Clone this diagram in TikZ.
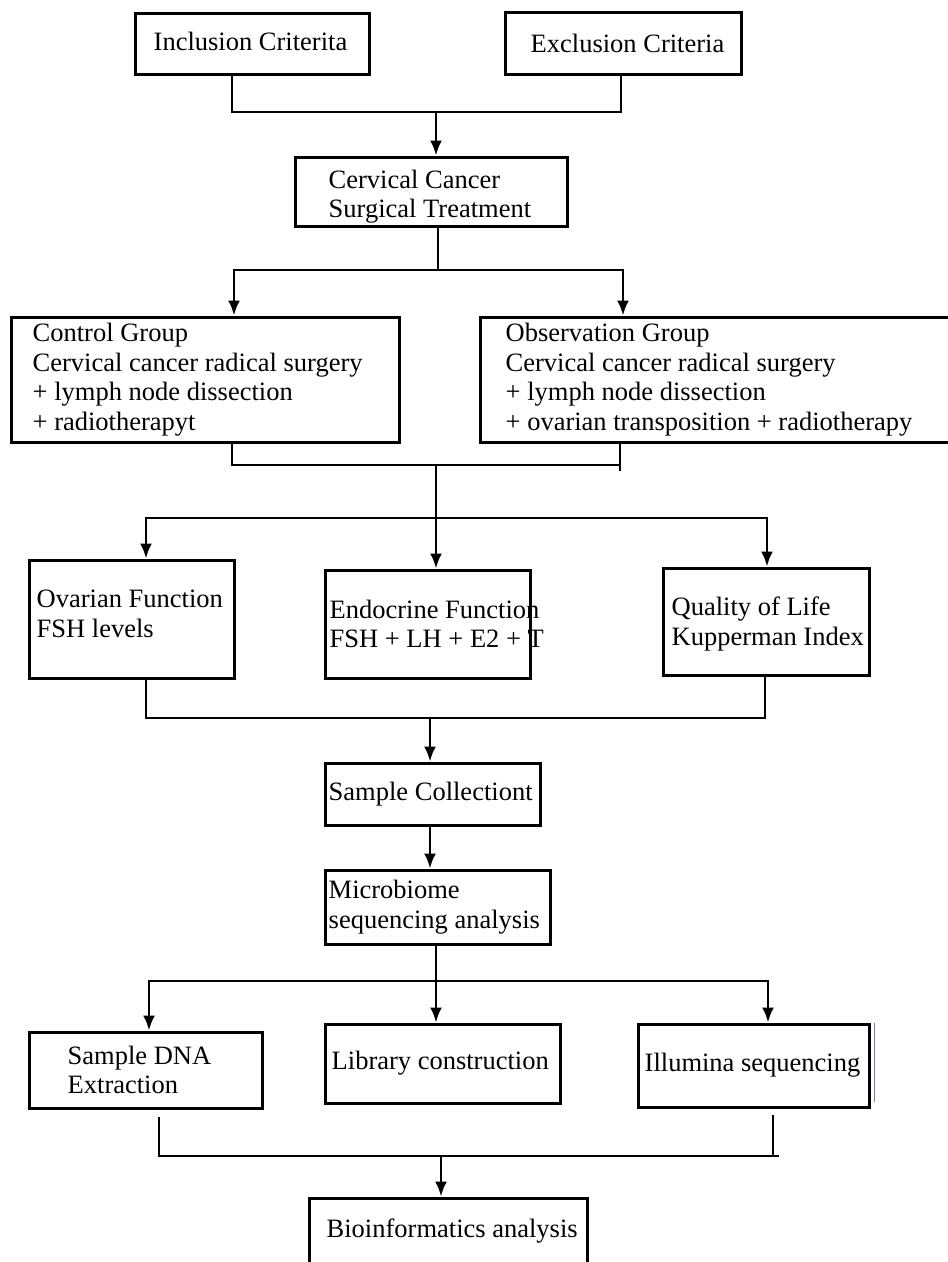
\documentclass[tikz,border=0pt]{standalone}
\usepackage{fontspec}
\setmainfont{Liberation Serif}
\usetikzlibrary{arrows.meta}

\definecolor{edgeblue}{RGB}{110,130,170}

\begin{document}
\begin{tikzpicture}[x=1pt, y=-1pt,
  box/.style={draw, line width=3pt, inner sep=0pt},
  txt/.style={anchor=west, align=left, inner sep=0pt, font=\fontsize{26.5}{29.5}\selectfont},
  link/.style={line width=2.5pt},
  arr/.style={line width=2.5pt, -{Latex[length=15pt, width=12pt]}}]

\useasboundingbox (0,0) rectangle (948,1262);

\node [box, minimum width=234pt, minimum height=61pt, label={[txt, xshift=20pt, yshift=2.5pt]west:Inclusion Criterita}] (incl) at (252,43.5) {};
\node [box, minimum width=236pt, minimum height=62pt, label={[txt, xshift=27pt]west:Exclusion Criteria}] (excl) at (623,43) {};
\node [box, minimum width=272pt, minimum height=69pt, label={[txt, xshift=35pt, yshift=-5pt]west:Cervical Cancer\\Surgical Treatment}] (cerv) at (431,191.5) {};

\node [box, minimum width=388pt, minimum height=125pt, label={[txt, xshift=23pt]west:Control Group\\Cervical cancer radical surgery\\+ lymph node dissection\\+ radiotherapyt}] (ctrl) at (205,379.5) {};
\node [box, minimum width=490pt, minimum height=125pt, label={[txt, xshift=27pt]west:Observation Group\\Cervical cancer radical surgery\\+ lymph node dissection\\+ ovarian transposition + radiotherapy}] (obs) at (725,379.5) {};

\node [box, minimum width=205pt, minimum height=118pt, label={[txt, xshift=9pt, yshift=5pt]west:Ovarian Function\\FSH levels}] (ovar) at (131.5,619) {};
\node [box, minimum width=205pt, minimum height=108pt, label={[txt, xshift=6pt]west:Endocrine Function\\FSH + LH + E2 + T}] (endo) at (427.5,624) {};
\node [box, minimum width=206pt, minimum height=107pt, label={[txt, xshift=10pt, yshift=-2.5pt]west:Quality of Life\\Kupperman Index}] (qual) at (766,621.5) {};

\node [box, minimum width=215pt, minimum height=62pt, label={[txt, xshift=5pt]west:Sample Collectiont}] (samp) at (432.5,794) {};
\node [box, minimum width=225pt, minimum height=74pt, label={[txt, xshift=5pt]west:Microbiome\\sequencing analysis}] (micro) at (437.5,907) {};

\node [box, minimum width=233pt, minimum height=76pt, label={[txt, xshift=40pt]west:Sample DNA\\Extraction}] (dna) at (145.5,1070) {};
\node [box, minimum width=235pt, minimum height=79pt, label={[txt, xshift=8pt]west:Library construction}] (lib) at (442.5,1063.5) {};
\node [box, minimum width=231pt, minimum height=83pt, label={[txt, xshift=8pt]west:Illumina sequencing}] (illu) at (753.5,1065.5) {};
\node [box, minimum width=278pt, minimum height=72pt, label={[txt, xshift=19pt, yshift=3pt]west:Bioinformatics analysis}] (bio) at (448,1234) {};

\draw [edgeblue, line width=1.5pt] ([xshift=4pt]illu.north east) -- ([xshift=4pt, yshift=7pt]illu.south east);

\coordinate (j1l) at (232,112);
\coordinate (j1r) at (621,112);
\coordinate (j1) at (436,112);
\draw [link] (j1l |- incl.south) -- (j1l) -- (j1r) -- (j1r |- excl.south);
\draw [arr] (j1) -- (j1 |- cerv.north);

\coordinate (j2l) at (234,270);
\coordinate (j2r) at (623,270);
\coordinate (j2) at (438,270);
\draw [link] (j2 |- cerv.south) -- (j2);
\draw [arr] (j2) -- (j2l) -- (j2l |- ctrl.north);
\draw [arr] (j2) -- (j2r) -- (j2r |- obs.north);

\coordinate (j3l) at (232,465);
\coordinate (j3r) at (620,465);
\coordinate (j3e) at (620,471);
\coordinate (j3) at (436,465);
\draw [link] (j3l |- ctrl.south) -- (j3l) -- (j3r);
\draw [link] (j3r |- obs.south) -- (j3e);

\coordinate (j4l) at (146,518);
\coordinate (j4r) at (767,518);
\coordinate (j4) at (436,518);
\draw [arr] (j3) -- (j3 |- endo.north);
\draw [arr] (j4) -- (j4l) -- (j4l |- ovar.north);
\draw [arr] (j4) -- (j4r) -- (j4r |- qual.north);

\coordinate (j5l) at (146,718);
\coordinate (j5r) at (765,718);
\coordinate (j5) at (430,718);
\draw [link] (j5l |- ovar.south) -- (j5l) -- (j5r) -- (j5r |- qual.south);
\draw [arr] (j5) -- (j5 |- samp.north);
\draw [arr] (j5 |- samp.south) -- (j5 |- micro.north);

\coordinate (j6l) at (149,981);
\coordinate (j6r) at (768,981);
\coordinate (j6) at (436,981);
\draw [arr] (j6 |- micro.south) -- (j6 |- lib.north);
\draw [arr] (j6) -- (j6l) -- (j6l |- dna.north);
\draw [arr] (j6) -- (j6r) -- (j6r |- illu.north);

\coordinate (k1) at (159,1117);
\coordinate (k2) at (773,1115);
\coordinate (j7l) at (159,1156);
\coordinate (j7r) at (773,1156);
\coordinate (j7e) at (779,1156);
\coordinate (j7) at (441,1156);
\draw [link] (k1) -- (j7l) -- (j7e);
\draw [link] (k2) -- (j7r);
\draw [arr] (j7) -- (j7 |- bio.north);

\end{tikzpicture}
\end{document}
